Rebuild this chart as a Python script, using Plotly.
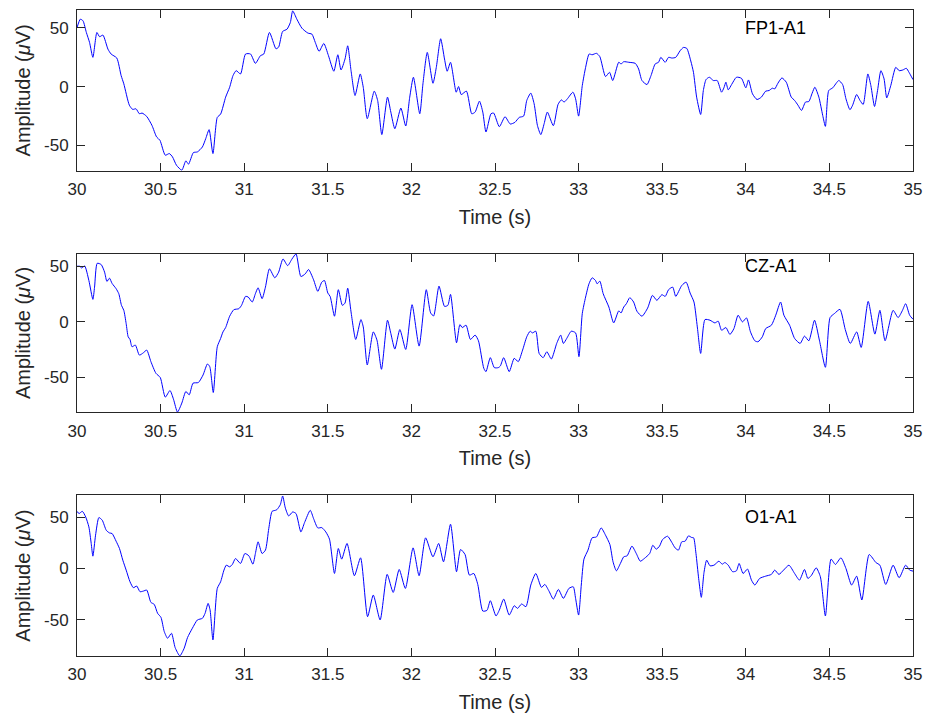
import plotly.graph_objects as go

# ---------------- data (time in s, amplitude in microvolts) ----------------
t_fp1 = [30.000, 30.020, 30.036, 30.056, 30.075, 30.095, 30.119, 30.135, 30.155, 30.185,
         30.204, 30.238, 30.264, 30.280, 30.313, 30.333, 30.353, 30.373, 30.389, 30.417,
         30.448, 30.476, 30.496, 30.528, 30.552, 30.571, 30.595, 30.627, 30.651, 30.667,
         30.696, 30.720, 30.750, 30.770, 30.790, 30.813, 30.839, 30.859, 30.889, 30.913,
         30.933, 30.952, 30.978, 31.008, 31.038, 31.067, 31.097, 31.117, 31.151, 31.190,
         31.206, 31.230, 31.256, 31.276, 31.290, 31.315, 31.345, 31.381, 31.405, 31.425,
         31.448, 31.476, 31.504, 31.536, 31.560, 31.579, 31.603, 31.619, 31.639, 31.663,
         31.694, 31.712, 31.736, 31.778, 31.798, 31.823, 31.857, 31.877, 31.901, 31.937,
         31.966, 31.990, 32.012, 32.050, 32.069, 32.095, 32.129, 32.149, 32.175, 32.198,
         32.214, 32.234, 32.268, 32.282, 32.298, 32.329, 32.361, 32.381, 32.407, 32.427,
         32.446, 32.476, 32.492, 32.526, 32.560, 32.591, 32.619, 32.645, 32.671, 32.690,
         32.714, 32.734, 32.754, 32.774, 32.794, 32.813, 32.849, 32.877, 32.897, 32.913,
         32.933, 32.966, 32.982, 33.000, 33.022, 33.042, 33.063, 33.081, 33.107, 33.127,
         33.161, 33.185, 33.204, 33.240, 33.254, 33.270, 33.300, 33.339, 33.359, 33.379,
         33.409, 33.433, 33.458, 33.478, 33.492, 33.518, 33.538, 33.558, 33.581, 33.607,
         33.627, 33.647, 33.671, 33.687, 33.706, 33.730, 33.746, 33.762, 33.782, 33.806,
         33.829, 33.855, 33.869, 33.881, 33.895, 33.915, 33.944, 33.974, 34.000, 34.016,
         34.040, 34.067, 34.093, 34.119, 34.139, 34.159, 34.173, 34.192, 34.216, 34.242,
         34.272, 34.292, 34.312, 34.333, 34.357, 34.377, 34.397, 34.413, 34.437, 34.460,
         34.476, 34.496, 34.520, 34.556, 34.579, 34.599, 34.623, 34.639, 34.663, 34.683,
         34.702, 34.730, 34.748, 34.770, 34.788, 34.808, 34.827, 34.843, 34.867, 34.897,
         34.917, 34.940, 34.960, 34.976, 35.000]
v_fp1 = [50, 57.2, 55.8, 45.9, 37.5, 24.8, 45.9, 42.3, 43.7, 31.8,
         27.6, 24.2, 9.3, 2.3, -15.8, -19.4, -18.9, -23.1, -22.5, -25.4,
         -32.9, -42.8, -45.6, -58.3, -56.9, -59.7, -66.8, -71.0, -63.1, -65.9,
         -56.1, -55.5, -51.3, -44.2, -36.6, -56.9, -26.2, -23.4, -9.0, -0.6,
         9.3, 13.5, 10.7, 27.6, 27.6, 19.7, 26.2, 27.6, 45.9, 32.1,
         33.5, 46.8, 48.7, 54.4, 64.2, 57.2, 49.6, 45.4, 44.5, 37.5,
         29.9, 36.6, 26.2, 13.0, 27.0, 14.1, 23.4, 34.6, 13.5, -7.6,
         10.7, -0.6, -27.3, -3.9, -11.8, -40.8, -9.0, -21.7, -35.8, -18.3,
         -33.5, -9.0, 7.9, -23.1, 2.3, 29.0, 2.8, 16.3, 40.6, 23.4,
         13.0, 20.6, -4.8, 0.0, -6.8, -3.9, -23.1, -21.7, -12.4, -21.7,
         -38.6, -23.1, -22.5, -34.1, -25.6, -31.8, -30.4, -26.2, -25.1, -11.8,
         -5.6, -14.6, -33.2, -40.8, -31.5, -21.7, -33.2, -15.2, -11.3, -13.2,
         -10.4, -4.8, -10.4, -25.1, 0.8, 16.3, 27.6, 27.0, 28.2, 25.4,
         8.5, 12.1, 5.1, 20.6, 19.2, 21.1, 20.6, 19.7, 14.9, 5.1,
         1.7, 9.3, 19.2, 20.6, 24.8, 20.6, 24.8, 24.2, 24.8, 30.4,
         33.2, 32.4, 21.7, 12.1, -9.0, -23.7, -3.4, 5.9, 7.9, 5.1,
         5.1, -4.8, -1.1, 3.7, -2.8, 1.7, 7.9, 7.0, -1.1, 5.6,
         -6.2, -11.0, -9.0, -3.9, -3.4, -1.4, -2.0, 2.8, 7.3, 3.7,
         -9.0, -11.8, -15.8, -20.3, -13.2, -12.7, -5.6, -0.6, -9.0, -24.5,
         -33.8, -3.4, -1.1, 5.1, 1.7, -10.4, -19.7, -15.8, -6.8, -11.8,
         -15.2, 10.7, 0.8, -16.9, -3.4, 13.5, 6.5, -9.6, 0.8, 16.3,
         13.5, 14.1, 15.5, 12.1, 5.9]

t_cz = [30.000, 30.016, 30.028, 30.046, 30.071, 30.095, 30.105, 30.121, 30.145, 30.165,
        30.179, 30.194, 30.210, 30.234, 30.250, 30.266, 30.280, 30.294, 30.306, 30.317,
        30.329, 30.349, 30.373, 30.397, 30.417, 30.442, 30.472, 30.498, 30.528, 30.556,
        30.577, 30.601, 30.627, 30.651, 30.671, 30.694, 30.726, 30.754, 30.780, 30.794,
        30.815, 30.839, 30.859, 30.873, 30.889, 30.913, 30.938, 30.968, 30.984, 31.008,
        31.024, 31.048, 31.067, 31.083, 31.107, 31.127, 31.151, 31.183, 31.206, 31.232,
        31.260, 31.286, 31.310, 31.339, 31.365, 31.385, 31.415, 31.440, 31.464, 31.480,
        31.500, 31.514, 31.540, 31.563, 31.587, 31.603, 31.619, 31.639, 31.667, 31.698,
        31.712, 31.736, 31.772, 31.794, 31.821, 31.857, 31.877, 31.901, 31.931, 31.966,
        32.004, 32.046, 32.089, 32.115, 32.133, 32.165, 32.198, 32.218, 32.234, 32.270,
        32.290, 32.304, 32.327, 32.353, 32.381, 32.401, 32.433, 32.446, 32.472, 32.496,
        32.520, 32.532, 32.552, 32.585, 32.615, 32.639, 32.665, 32.690, 32.710, 32.724,
        32.744, 32.764, 32.788, 32.810, 32.837, 32.869, 32.893, 32.909, 32.929, 32.956,
        32.982, 33.002, 33.022, 33.042, 33.062, 33.081, 33.101, 33.111, 33.127, 33.147,
        33.181, 33.210, 33.240, 33.254, 33.270, 33.286, 33.306, 33.329, 33.349, 33.379,
        33.413, 33.442, 33.468, 33.498, 33.518, 33.538, 33.563, 33.581, 33.617, 33.643,
        33.667, 33.690, 33.710, 33.730, 33.756, 33.786, 33.815, 33.835, 33.855, 33.881,
        33.905, 33.929, 33.954, 33.980, 34.004, 34.028, 34.054, 34.073, 34.099, 34.119,
        34.153, 34.179, 34.208, 34.228, 34.262, 34.292, 34.325, 34.351, 34.377, 34.411,
        34.440, 34.476, 34.504, 34.530, 34.563, 34.595, 34.625, 34.663, 34.690, 34.732,
        34.772, 34.802, 34.833, 34.881, 34.911, 34.937, 34.956, 34.980, 35.000]
v_cz = [50.1, 50.1, 48.6, 50.4, 37.3, 20.3, 31.3, 52.8, 51.6, 44.8,
        36.4, 39.4, 34.6, 29.9, 25.4, 14.9, 10.4, -1.5, -13.4, -15.8,
        -22.4, -20.9, -29.9, -27.8, -25.4, -35.8, -46.3, -50.1, -67.8, -61.8,
        -69.6, -81.2, -73.1, -62.7, -65.7, -55.2, -54.6, -47.8, -37.9, -40.3,
        -63.6, -22.4, -14.9, -9.0, -5.1, 5.1, 11.0, 11.9, 14.9, 23.0,
        22.4, 17.9, 25.4, 30.7, 20.9, 31.3, 47.8, 39.7, 44.8, 56.7,
        50.7, 56.7, 61.2, 40.9, 43.3, 47.2, 37.9, 27.5, 35.8, 37.3,
        26.0, 23.0, 5.1, 29.0, 14.9, 17.0, 30.4, 9.0, -15.8, 2.1,
        -4.5, -38.8, -9.0, -16.4, -42.7, 1.5, -10.4, -24.5, -6.9, -24.8,
        15.5, -21.8, 29.0, 8.1, 5.4, 32.2, 14.0, 14.9, 24.8, -18.8,
        -2.4, -5.1, -3.0, -15.8, -11.9, -17.0, -41.8, -44.8, -32.2, -41.2,
        -41.2, -39.7, -32.2, -44.8, -32.8, -35.8, -25.4, -13.4, -8.4, -9.9,
        -8.4, -28.4, -32.2, -26.9, -33.4, -19.4, -11.9, -19.4, -14.9, -8.4,
        -9.9, -31.3, 7.5, 22.4, 34.3, 39.7, 37.3, 34.3, 36.7, 25.4,
        13.4, -0.9, 9.9, 8.1, 13.4, 16.4, 21.8, 17.9, 9.6, 5.1,
        12.5, 23.9, 19.4, 24.5, 23.0, 29.0, 31.3, 23.0, 32.8, 35.8,
        26.0, 17.9, -4.5, -28.4, 2.1, 1.5, -0.9, 0.6, -7.5, -5.1,
        -11.3, -6.0, 6.0, 0.0, 3.6, -9.0, -17.0, -17.9, -13.4, -6.0,
        -3.0, 6.0, 17.9, 6.0, -3.0, -14.9, -19.4, -12.8, -17.0, 1.5,
        -16.4, -40.9, 3.9, 7.5, 11.3, -6.9, -19.4, -9.0, -23.0, 18.5,
        -11.0, 10.4, -17.0, 10.4, 3.9, 10.4, 16.4, 6.0, 2.4]

t_o1 = [30.000, 30.012, 30.032, 30.052, 30.071, 30.085, 30.095, 30.111, 30.131, 30.151,
        30.175, 30.194, 30.210, 30.234, 30.254, 30.274, 30.294, 30.317, 30.337, 30.357,
        30.377, 30.397, 30.417, 30.442, 30.462, 30.482, 30.502, 30.522, 30.542, 30.565,
        30.587, 30.615, 30.641, 30.661, 30.690, 30.720, 30.750, 30.766, 30.784, 30.796,
        30.813, 30.839, 30.859, 30.879, 30.893, 30.913, 30.929, 30.948, 30.978, 31.004,
        31.028, 31.052, 31.067, 31.083, 31.107, 31.127, 31.147, 31.167, 31.187, 31.196,
        31.216, 31.230, 31.246, 31.266, 31.290, 31.310, 31.339, 31.361, 31.395, 31.415,
        31.440, 31.464, 31.488, 31.510, 31.540, 31.563, 31.583, 31.615, 31.659, 31.696,
        31.738, 31.772, 31.813, 31.855, 31.891, 31.927, 31.964, 32.010, 32.046, 32.085,
        32.129, 32.163, 32.192, 32.234, 32.270, 32.294, 32.321, 32.347, 32.373, 32.397,
        32.427, 32.452, 32.472, 32.506, 32.526, 32.552, 32.585, 32.615, 32.635, 32.659,
        32.685, 32.714, 32.744, 32.778, 32.798, 32.823, 32.849, 32.879, 32.909, 32.942,
        32.968, 32.982, 33.000, 33.016, 33.032, 33.056, 33.081, 33.107, 33.135, 33.161,
        33.187, 33.206, 33.226, 33.250, 33.270, 33.290, 33.319, 33.345, 33.369, 33.393,
        33.425, 33.444, 33.464, 33.484, 33.502, 33.532, 33.558, 33.577, 33.597, 33.617,
        33.637, 33.657, 33.677, 33.688, 33.702, 33.718, 33.734, 33.750, 33.766, 33.786,
        33.810, 33.839, 33.859, 33.875, 33.895, 33.921, 33.944, 33.960, 33.984, 34.010,
        34.034, 34.054, 34.083, 34.119, 34.153, 34.173, 34.198, 34.226, 34.258, 34.292,
        34.321, 34.351, 34.371, 34.391, 34.421, 34.446, 34.476, 34.510, 34.536, 34.569,
        34.599, 34.633, 34.663, 34.694, 34.738, 34.778, 34.802, 34.837, 34.881, 34.917,
        34.956, 34.980, 35.000]
v_o1 = [55.8, 53.6, 55.8, 50.3, 40.6, 24.4, 12.0, 32.5, 49.7, 47.1,
        37.3, 34.7, 34.1, 26.6, 19.5, 8.1, -1.6, -13.0, -18.8, -17.2,
        -22.7, -22.1, -21.1, -33.1, -35.1, -43.8, -47.7, -61.7, -68.2, -63.3,
        -77.3, -85.4, -77.9, -67.5, -58.4, -50.3, -48.7, -43.8, -34.1, -40.6,
        -69.8, -19.5, -13.0, -1.6, 3.2, 1.6, 3.9, 9.7, 4.9, 14.6,
        12.3, 4.2, 14.6, 26.0, 14.6, 17.9, 39.0, 55.8, 56.8, 57.5,
        62.3, 70.8, 59.1, 51.3, 55.2, 53.6, 35.7, 44.8, 56.8, 48.7,
        39.6, 39.9, 35.7, 28.6, -4.9, 19.5, 9.1, 24.4, -7.1, 10.4,
        -47.1, -26.0, -50.3, -5.8, -23.4, -1.0, -19.5, 20.1, -7.1, 29.9,
        11.4, 24.4, 6.5, 43.2, -3.2, 18.5, 13.6, -6.5, -4.9, -15.6,
        -41.6, -40.9, -31.5, -46.4, -40.6, -29.9, -45.5, -36.4, -39.0, -34.7,
        -37.3, -16.2, -4.9, -18.5, -15.6, -22.1, -29.9, -20.5, -29.2, -19.5,
        -17.9, -29.2, -45.5, -16.2, 9.1, 17.9, 29.9, 30.8, 39.6, 32.5,
        23.4, 6.5, -2.3, 4.9, 11.4, 12.3, 21.8, 14.6, 7.1, 9.7,
        14.6, 22.7, 18.8, 21.8, 28.2, 31.5, 25.3, 20.1, 17.9, 26.0,
        26.6, 31.8, 30.2, 29.9, 14.6, -9.7, -28.2, -3.9, 8.1, 2.6,
        3.2, 7.1, 4.2, 5.8, 3.2, -3.2, -2.3, 4.9, -4.9, -0.6,
        -11.4, -16.2, -9.7, -7.5, -5.8, -1.6, -5.8, -1.6, 3.2, -4.9,
        -11.4, -1.0, -9.7, -7.1, 0.6, -8.1, -46.4, 9.1, 3.9, 10.4,
        0.0, -16.2, -7.5, -30.8, 13.6, 5.8, 3.2, -15.6, 3.2, -9.1,
        3.2, -1.6, -2.6]

channel_names = ["FP1-A1", "CZ-A1", "O1-A1"]
times = [t_fp1, t_cz, t_o1]
signals = [v_fp1, v_cz, v_o1]
y_limits = [[-71.5, 65.0], [-81.5, 61.5], [-85.5, 71.5]]
x_ticks = [30, 30.5, 31, 31.5, 32, 32.5, 33, 33.5, 34, 34.5, 35]
x_tick_labels = ["30", "30.5", "31", "31.5", "32", "32.5", "33", "33.5", "34", "34.5", "35"]
y_ticks = [-50, 0, 50]
y_tick_labels = ["-50", "0", "50"]
label_time = 34.0
label_value = 50.0

# ---------------- figure ----------------
W, H = 931, 719
ML, MR, MT, MB = 77, 14, 9, 63
panel_px = [(9, 170), (253, 412), (495, 656)]  # top, bottom in pixels
plot_h = H - MT - MB

AX = "#262626"
FONT = "Liberation Sans, Arial, Helvetica, sans-serif"
TICK_SIZE = 17
TITLE_SIZE = 20

fig = go.Figure()
layout = dict(
    width=W, height=H,
    margin=dict(l=ML, r=MR, t=MT, b=MB),
    paper_bgcolor="white", plot_bgcolor="white",
    showlegend=False,
    font=dict(family=FONT, color=AX, size=TICK_SIZE),
)
annotations = []
for i in range(3):
    sfx = "" if i == 0 else str(i + 1)
    top, bot = panel_px[i]
    d0 = (H - MB - bot) / plot_h
    d1 = (H - MB - top) / plot_h
    fig.add_trace(go.Scatter(
        x=times[i], y=signals[i], mode="lines",
        line=dict(color="#0000ff", width=1, shape="spline", smoothing=0.6),
        xaxis="x" + sfx, yaxis="y" + sfx, hoverinfo="skip",
    ))
    layout["xaxis" + sfx] = dict(
        domain=[0, 1], anchor="y" + sfx, range=[30, 35],
        tickmode="array", tickvals=x_ticks, ticktext=x_tick_labels,
        ticks="inside", ticklen=8, tickwidth=1, tickcolor=AX,
        showline=True, linecolor=AX, linewidth=1, mirror="ticks",
        showgrid=False, zeroline=False,
        tickfont=dict(size=TICK_SIZE, color=AX, family=FONT),
        ticklabelstandoff=3,
        title=dict(text="Time (s)", font=dict(size=TITLE_SIZE, color=AX, family=FONT), standoff=11),
    )
    layout["yaxis" + sfx] = dict(
        domain=[d0, d1], anchor="x" + sfx, range=y_limits[i],
        tickmode="array", tickvals=y_ticks, ticktext=y_tick_labels,
        ticks="inside", ticklen=8, tickwidth=1, tickcolor=AX,
        showline=True, linecolor=AX, linewidth=1, mirror="ticks",
        showgrid=False, zeroline=False,
        tickfont=dict(size=TICK_SIZE, color=AX, family=FONT),
        ticklabelstandoff=4,
        title=dict(text="Amplitude (<i>\u03bc</i>V)", font=dict(size=TITLE_SIZE, color=AX, family=FONT), standoff=8),
    )
    annotations.append(dict(
        x=label_time, y=label_value, xref="x" + sfx, yref="y" + sfx,
        text=channel_names[i], showarrow=False, xanchor="left", yanchor="middle",
        xshift=-3, font=dict(size=18, color="black", family=FONT),
    ))
layout["annotations"] = annotations
fig.update_layout(**layout)
fig.write_html("out.html")
